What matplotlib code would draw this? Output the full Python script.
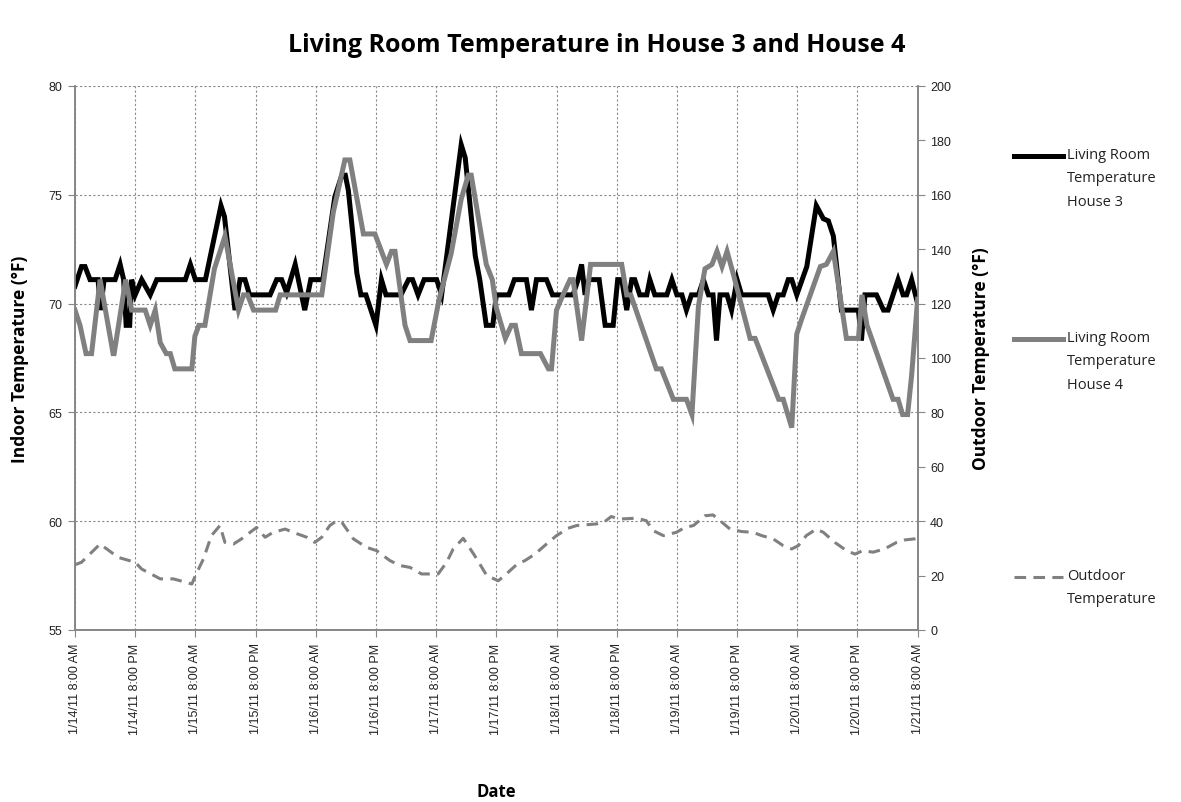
import matplotlib
matplotlib.use('Agg')
import matplotlib.pyplot as plt
from matplotlib.lines import Line2D

# x values are hours after 1/14/11 8:00 AM
tick_hours = list(range(0, 169, 12))
tick_labels = ['1/14/11 8:00 AM', '1/14/11 8:00 PM', '1/15/11 8:00 AM', '1/15/11 8:00 PM',
               '1/16/11 8:00 AM', '1/16/11 8:00 PM', '1/17/11 8:00 AM', '1/17/11 8:00 PM',
               '1/18/11 8:00 AM', '1/18/11 8:00 PM', '1/19/11 8:00 AM', '1/19/11 8:00 PM',
               '1/20/11 8:00 AM', '1/20/11 8:00 PM', '1/21/11 8:00 AM']

house3_hours = [0, 1.3, 2, 3, 4.6, 5.1, 5.8, 8, 9, 9.7, 10.2, 10.9, 11.3, 12, 13.3, 15, 16.3,
                22, 23, 24, 26, 29.1, 29.8, 31.9, 32.9, 33.9, 34.8, 38.9, 40.2, 41.2, 42.2,
                43.9, 45.8, 47, 49.4, 51.8, 53.2, 53.9, 54.5, 56.2, 57, 58, 60, 61.1, 62, 65,
                66.5, 67.3, 68.4, 69.6, 72.1, 73.1, 77, 77.8, 79.8, 80.7, 82, 83.3, 84, 86.5,
                87.6, 90, 91, 92, 94, 95.2, 99.3, 100.3, 101, 101.7, 102.5, 104.5, 105.7,
                107.3, 108.2, 109, 110, 111, 111.6, 112.6, 114, 114.6, 115.6, 118, 119, 120,
                121, 121.9, 122.9, 124.3, 125.3, 126.3, 127.2, 127.9, 128.6, 130, 130.9, 132,
                132.9, 138.2, 139.2, 140.2, 141.2, 142.2, 142.9, 143.9, 145.9, 147.8, 149.2,
                150.2, 151.2, 152.8, 156.2, 156.8, 157.5, 159.8, 161.2, 162.1, 164.1, 165.1,
                165.8, 166.8, 168]
house3_temp = [70.8, 71.7, 71.7, 71.1, 71.1, 69.7, 71.1, 71.1, 71.8, 71.1, 69.0, 69.0, 71.1,
               70.4, 71.1, 70.4, 71.1, 71.1, 71.8, 71.1, 71.1, 74.5, 74.0, 69.7, 71.1, 71.1,
               70.4, 70.4, 71.1, 71.1, 70.5, 71.8, 69.7, 71.1, 71.1, 74.9, 75.9, 75.9, 75.2,
               71.4, 70.4, 70.4, 69.0, 71.1, 70.4, 70.4, 71.1, 71.1, 70.4, 71.1, 71.1, 70.4,
               77.3, 76.7, 72.2, 71.1, 69.0, 69.0, 70.4, 70.4, 71.1, 71.1, 69.7, 71.1, 71.1,
               70.4, 70.4, 71.1, 71.8, 70.4, 71.1, 71.1, 69.0, 69.0, 71.1, 71.1, 69.7, 71.1,
               71.1, 70.4, 70.4, 71.1, 70.4, 70.4, 71.1, 70.4, 70.4, 69.7, 70.4, 70.4, 71.1,
               70.4, 70.4, 68.3, 70.4, 70.4, 69.7, 71.1, 70.4, 70.4, 69.7, 70.4, 70.4, 71.1,
               71.1, 70.4, 71.7, 74.5, 73.9, 73.8, 73.1, 69.7, 69.7, 68.3, 70.4, 70.4, 69.7,
               69.7, 71.1, 70.4, 70.4, 71.1, 70.0]

house4_hours = [0, 1, 2.2, 3.3, 5, 7.6, 7.8, 10.1, 11.3, 14, 15, 16, 17, 18.2, 19, 19.9, 23.3,
                23.9, 24.7, 25.9, 27.8, 29.9, 32.6, 33.6, 34.4, 35.6, 40, 40.9, 49.2, 51.5,
                53.8, 54.8, 57.5, 59.8, 62.1, 63.1, 63.8, 65.8, 66.8, 71, 72.6, 75, 77, 78.4,
                79, 82, 83.2, 84, 85.8, 87, 87.8, 89, 92.8, 94.4, 95, 96, 97.3, 98.7, 99.3,
                101, 102.8, 109, 110, 110.8, 115.9, 116.9, 119.3, 121.9, 123, 124.3, 125.6,
                127, 128, 129, 130, 131.2, 134.6, 135.6, 140.3, 141.2, 142.9, 143.9, 144.9,
                148.6, 149.8, 151.2, 153.8, 156.2, 156.9, 157.9, 163.1, 164.1, 165, 166,
                166.8, 168]
house4_temp = [69.7, 69.0, 67.7, 67.7, 71.1, 67.7, 67.7, 71.1, 69.7, 69.7, 69.0, 69.7, 68.2,
               67.7, 67.7, 67.0, 67.0, 68.5, 69.0, 69.0, 71.6, 73.1, 69.7, 70.4, 70.4, 69.7,
               69.7, 70.4, 70.4, 74.2, 76.6, 76.6, 73.2, 73.2, 71.8, 72.4, 72.4, 69.0, 68.3,
               68.3, 70.2, 72.3, 74.8, 75.9, 75.9, 71.8, 71.1, 69.8, 68.4, 69.0, 69.0, 67.7,
               67.7, 67.0, 67.0, 69.7, 70.4, 71.1, 71.1, 68.3, 71.8, 71.8, 70.4, 70.4, 67.0,
               67.0, 65.6, 65.6, 64.9, 69.9, 71.6, 71.8, 72.4, 71.7, 72.4, 71.4, 68.4, 68.4,
               65.6, 65.6, 64.3, 68.6, 69.3, 71.7, 71.8, 72.4, 68.4, 68.4, 70.4, 69.0, 65.6,
               65.6, 64.9, 64.9, 66.7, 70.2]

outdoor_hours = [0, 1.3, 5, 8.6, 12, 13.3, 17, 19.6, 21, 23.3, 24, 25.6, 27.2, 28.9, 29.9,
                 31.6, 33.2, 36.2, 37.9, 39.5, 41.9, 43.5, 46.2, 47.8, 49.2, 50.8, 52.2, 53.2,
                 55.5, 58.1, 60.1, 62.8, 64.8, 66.8, 69.1, 72.4, 74.1, 75.4, 77.4, 79.7, 82.1,
                 84.4, 86, 88.2, 89.7, 91.7, 94, 96, 98.3, 100, 104, 105.6, 106.9, 108.6, 112,
                 113.9, 115.3, 117.3, 119.9, 121.6, 123.3, 125.6, 127.2, 128.6, 130.6, 132.9,
                 135.2, 136.9, 139.2, 141.2, 142.9, 144.2, 145.8, 147.8, 149.2, 151.5, 153.8,
                 155.5, 157.1, 159.1, 161.4, 163.8, 165.4, 167.4, 168]
outdoor_temp = [24, 24.9, 31.6, 26.7, 24.9, 22.4, 18.8, 18.8, 18.1, 16.9, 20, 26.1, 34.7, 38.4,
                32.2, 31.6, 33.5, 37.7, 34.1, 35.9, 37.1, 35.9, 34.1, 32.2, 34.1, 38.4, 40.2,
                39.6, 33.5, 30.4, 29.2, 25.5, 23.7, 23.0, 20.6, 20.6, 24.9, 29.8, 33.7, 27.3,
                20.0, 18.1, 20.6, 24.3, 25.5, 27.9, 31.6, 34.7, 37.4, 38.4, 39.0, 39.8, 41.7,
                40.8, 41.1, 40.2, 36.5, 34.7, 35.9, 37.7, 38.4, 42.0, 42.3, 40.2, 37.1, 36.2,
                35.9, 34.7, 33.5, 31.0, 29.8, 31.0, 34.7, 37.1, 35.9, 32.2, 29.2, 27.9, 29.2,
                28.6, 29.8, 32.2, 33.1, 33.5, 33.8]

legend_labels = ['Living Room\nTemperature\nHouse 3', 'Living Room\nTemperature\nHouse 4',
                 'Outdoor\nTemperature']

TXT = 'Open Sans'
TICK = 'Liberation Sans'
GRID = '#8a8a8a'
SPINE = '#868686'
LW = 3.6


def main():
    fig = plt.figure(figsize=(11.81, 8.03), dpi=100)
    ax = fig.add_axes([0.0635, 0.2142, 0.7135, 0.6775])
    ax2 = ax.twinx()

    ax.plot(house3_hours, house3_temp, color='black', lw=LW, solid_joinstyle='miter', zorder=3)
    ax.plot(house4_hours, house4_temp, color='#808080', lw=LW, solid_joinstyle='miter', zorder=4)
    ax2.plot(outdoor_hours, outdoor_temp, color='#808080', lw=2.2, dashes=(3.8, 2.4))

    ax.set_xlim(0, 168)
    ax.set_ylim(55, 80)
    ax2.set_ylim(0, 200)
    ax.set_yticks(range(55, 81, 5))
    ax2.set_yticks(range(0, 201, 20))
    ax.set_xticks(tick_hours)
    ax.set_xticklabels(tick_labels, rotation=90, fontsize=9, family=TICK, color='#222222')
    for lab in ax.get_yticklabels() + ax2.get_yticklabels():
        lab.set_fontsize(9)
        lab.set_family(TICK)
        lab.set_color('#222222')

    ax.grid(True, color=GRID, lw=0.8, ls=(0, (2, 2)))
    ax.set_axisbelow(True)
    ax.tick_params(axis='both', direction='out', length=5, color=SPINE, pad=4)
    ax2.tick_params(axis='y', direction='out', length=5, color=SPINE, pad=4)

    for a in (ax, ax2):
        a.spines['top'].set_visible(False)
        for s in ('left', 'right', 'bottom'):
            a.spines[s].set_color(SPINE)
            a.spines[s].set_linewidth(1.2)

    fig.text(0.505, 0.943, 'Living Room Temperature in House 3 and House 4',
             ha='center', va='center', fontsize=18, fontweight='bold', family=TXT)
    fig.text(0.017, 0.553, 'Indoor Temperature (°F)', rotation=90, ha='center', va='center',
             fontsize=12.5, fontweight='bold', family=TXT)
    fig.text(0.8306, 0.553, 'Outdoor Temperature (°F)', rotation=90, ha='center', va='center',
             fontsize=12.5, fontweight='bold', family=TXT)
    fig.text(0.4205, 0.014, 'Date', ha='center', va='center', fontsize=12,
             fontweight='bold', family=TXT)

    # legend drawn by hand so the handle sits at the first text line, as in Excel
    styles = [dict(color='black', lw=LW), dict(color='#808080', lw=LW),
              dict(color='#808080', lw=2.2, dashes=(3.8, 2.4))]
    rows = [157, 340, 578]
    for style, label, row in zip(styles, legend_labels, rows):
        yf = 1 - row / 803
        fig.add_artist(Line2D([0.859, 0.900], [yf, yf], transform=fig.transFigure, **style))
        fig.text(0.9035, yf + 0.0115, label, ha='left', va='top', fontsize=10.5,
                 family=TXT, color='#222222', linespacing=1.78)

    fig.savefig('out.png', dpi=100)


if __name__ == '__main__':
    main()
